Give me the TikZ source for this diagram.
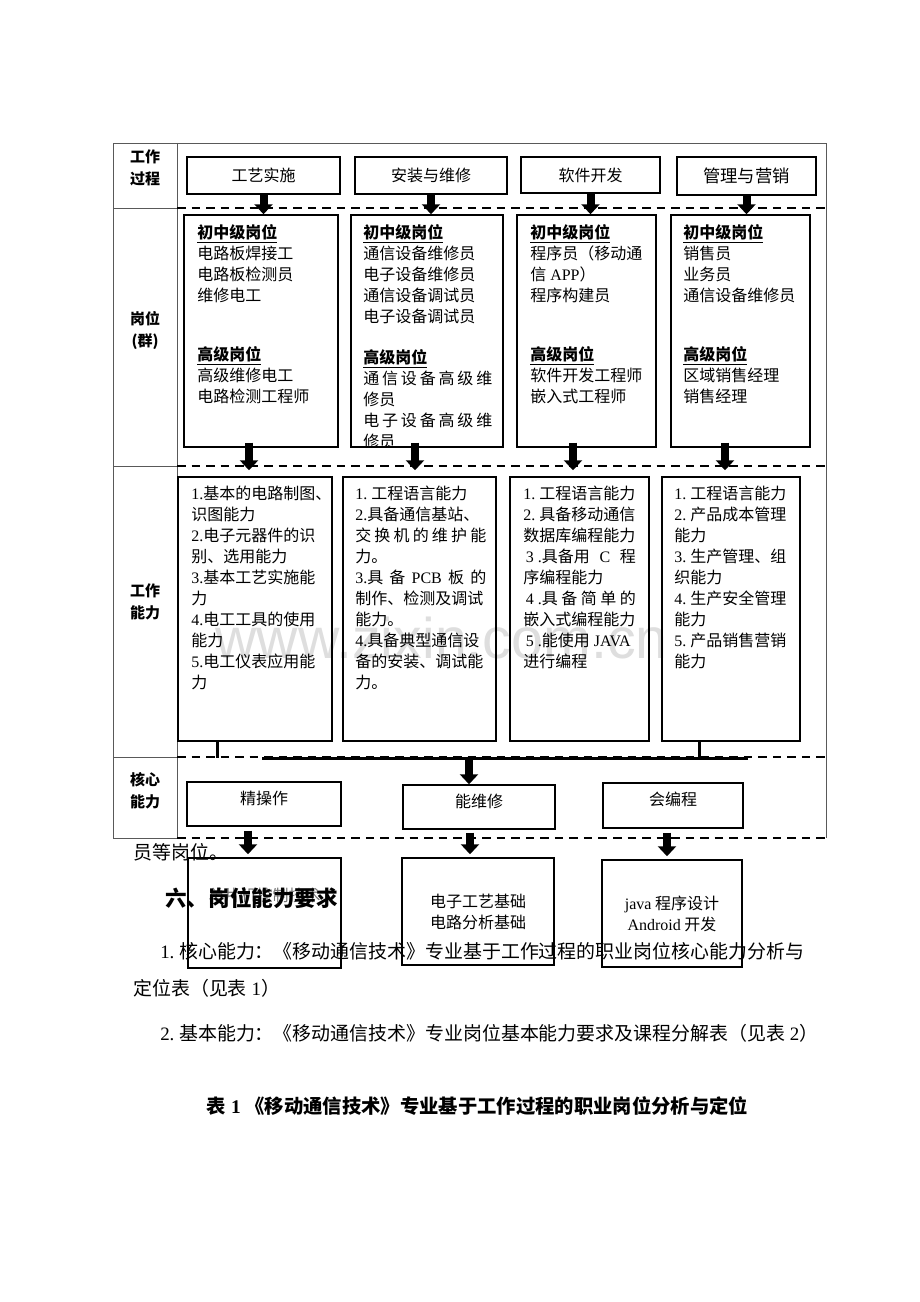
\documentclass[tikz,border=0pt]{standalone}
\usepackage{fontspec}
\usetikzlibrary{arrows.meta,calc}
\setmainfont{Liberation Serif}
\newfontfamily\cjk{Noto Sans CJK SC}
\newfontfamily\wmfont{Liberation Sans}
\newcommand\latn[1]{{\rmfamily #1}}
\newcommand\sprd[2]{\makebox[#1][s]{#2}}

\begin{document}
\begin{tikzpicture}[x=0.75pt,y=-0.75pt,
    box/.style={draw,line width=1.1pt,inner sep=0pt,align=center,font=\cjk\fontsize{12pt}{15.75pt}\selectfont},
    txt/.style={anchor=north west,inner sep=0pt,align=left,font=\cjk\fontsize{12pt}{15.75pt}\selectfont},
    rowlbl/.style={inner sep=0pt,align=center,font=\cjk\bfseries\fontsize{11.25pt}{16.5pt}\selectfont},
    rowsep/.style={dash pattern=on 6.4pt off 4.5pt,line width=1pt},
    frame/.style={black!65,line width=0.6pt},
    bigarrow/.style={line width=6pt,-{Triangle[width=13.5pt,length=7.5pt]}},
    busline/.style={line width=2.25pt},
    raised/.style={text height=9pt,text depth=9pt},
    body/.style={anchor=west,inner sep=0pt,font=\cjk\fontsize{14.2pt}{18pt}\selectfont}]
  \useasboundingbox (0,0) rectangle (920,1302);

  % watermark
  \node[anchor=base west,inner sep=0pt,font=\wmfont\fontsize{43pt}{43pt}\selectfont,text=black!13] (wm) at (215,658) {www.zixin.com.cn};

  % table
  \draw[frame] (177,838) -- (113,838) -- (113,143) -- (826,143) -- (826,838);
  \draw[frame] (177,143) -- (177,838);
  \draw[frame] (113,208) -- (177,208);
  \draw[frame] (113,466) -- (177,466);
  \draw[frame] (113,757) -- (177,757);
  \draw[rowsep] (177,208) -- (826,208);
  \draw[rowsep] (177,466) -- (826,466);
  \draw[rowsep] (177,757) -- (826,757);
  \draw[rowsep] (177,838) -- (826,838);

  \node[rowlbl] (lgc) at (145,168) {工作\\过程};
  \node[rowlbl] (lgw) at (145,330) {岗位\\(群)};
  \node[rowlbl] (lnl) at (145,602) {工作\\能力};
  \node[rowlbl] (lhx) at (145,791) {核心\\能力};

  % work process
  \node[box,minimum width=114.75pt,minimum height=27.75pt] (gc1) at (263.5,175.5) {工艺实施};
  \node[box,minimum width=114pt,minimum height=27.75pt] (gc2) at (431,175.5) {安装与维修};
  \node[box,minimum width=104.25pt,minimum height=27pt] (gc3) at (590.5,175) {软件开发};
  \node[box,minimum width=104.25pt,minimum height=28.5pt,font=\cjk\fontsize{13pt}{16pt}\selectfont] (gc4) at (746.5,176) {管理与营销};

  % posts
  \node[box,minimum width=115.5pt,minimum height=174pt] (gw1) at (261,331) {};
  \node[box,minimum width=114pt,minimum height=174pt] (gw2) at (427,331) {};
  \node[box,minimum width=104.25pt,minimum height=174pt] (gw3) at (586.5,331) {};
  \node[box,minimum width=104.25pt,minimum height=174pt] (gw4) at (740.5,331) {};

  \node[txt] (gw1t) at (197,224.5) {\underline{\textbf{初中级岗位}}\\
    电路板焊接工\\
    电路板检测员\\
    维修电工\\[28.5pt]
    \underline{\textbf{高级岗位}}\\
    高级维修电工\\
    电路检测工程师};
  \begin{scope}
    \clip (gw2.north west) rectangle (gw2.south east);
    \node[txt] (gw2t) at (363,224.5) {\underline{\textbf{初中级岗位}}\\
      通信设备维修员\\
      电子设备维修员\\
      通信设备调试员\\
      电子设备调试员\\[15pt]
      \underline{\textbf{高级岗位}}\\
      \sprd{96.75pt}{通\hfill 信\hfill 设\hfill 备\hfill 高\hfill 级\hfill 维}\\
      修员\\
      \sprd{96.75pt}{电\hfill 子\hfill 设\hfill 备\hfill 高\hfill 级\hfill 维}\\
      修员};
  \end{scope}
  \node[txt] (gw3t) at (530,224.5) {\underline{\textbf{初中级岗位}}\\
    程序员（移动通\\
    信\latn{~APP}）\\
    程序构建员\\[28.5pt]
    \underline{\textbf{高级岗位}}\\
    软件开发工程师\\
    嵌入式工程师};
  \node[txt] (gw4t) at (683,224.5) {\underline{\textbf{初中级岗位}}\\
    销售员\\
    业务员\\
    通信设备维修员\\[28.5pt]
    \underline{\textbf{高级岗位}}\\
    区域销售经理\\
    销售经理};

  % abilities
  \node[box,minimum width=115.5pt,minimum height=198pt] (nl1) at (255,609) {};
  \node[box,minimum width=114.75pt,minimum height=198pt] (nl2) at (419.5,609) {};
  \node[box,minimum width=104.25pt,minimum height=198pt] (nl3) at (579.5,609) {};
  \node[box,minimum width=103.5pt,minimum height=198pt] (nl4) at (731,609) {};

  \node[txt] (nl1t) at (191,485.5) {\latn{1.}基本的电路制图、\\
    识图能力\\
    \latn{2.}电子元器件的识\\
    别、选用能力\\
    \latn{3.}基本工艺实施能\\
    力\\
    \latn{4.}电工工具的使用\\
    能力\\
    \latn{5.}电工仪表应用能\\
    力};
  \node[txt] (nl2t) at (355,485.5) {\latn{1.~}工程语言能力\\
    \latn{2.}具备通信基站、\\
    \sprd{98.25pt}{交\hfill 换\hfill 机\hfill 的\hfill 维\hfill 护\hfill 能}\\
    力。\\
    \sprd{98.25pt}{\latn{3.}具\hfill 备\hfill\latn{PCB}\hfill 板\hfill 的}\\
    制作、检测及调试\\
    能力。\\
    \latn{4.}具备典型通信设\\
    备的安装、调试能\\
    力。};
  \node[txt] (nl3t) at (523,485.5) {\latn{1.~}工程语言能力\\
    \latn{2.~}具备移动通信\\
    数据库编程能力\\
    \hspace*{2pt}\sprd{82.5pt}{\latn{3~.}具备用\hfill\latn{C}\hfill 程}\\
    序编程能力\\
    \hspace*{2pt}\sprd{82.5pt}{\latn{4~.}具\hfill 备\hfill 简\hfill 单\hfill 的}\\
    嵌入式编程能力\\
    \hspace*{2pt}\latn{5~.}能使用\latn{~JAVA}\\
    进行编程};
  \node[txt] (nl4t) at (674,485.5) {\latn{1.~}工程语言能力\\
    \latn{2.~}产品成本管理\\
    能力\\
    \latn{3.~}生产管理、组\\
    织能力\\
    \latn{4.~}生产安全管理\\
    能力\\
    \latn{5.~}产品销售营销\\
    能力};

  % core abilities
  \node[box,raised,minimum width=115.5pt,minimum height=33pt] (hx1) at (264,804) {精操作};
  \node[box,raised,minimum width=114pt,minimum height=33pt] (hx2) at (479,807) {能维修};
  \node[box,raised,minimum width=105pt,minimum height=33.75pt] (hx3) at (673,805.5) {会编程};

  % courses
  \node[box,minimum width=114.75pt,minimum height=82.5pt] (kc1) at (264.5,913) {};
  \node[box,minimum width=114pt,minimum height=80.25pt] (kc2) at (478,911.5) {电子工艺基础\\电路分析基础};
  \node[box,minimum width=105pt,minimum height=80.25pt] (kc3) at (672,913.5) {\latn{java} 程序设计\\\latn{Android} 开发};
  \node[inner sep=0pt,font=\cjk\fontsize{12pt}{15.75pt}\selectfont,text=black!55] (kc1t) at ($(kc1)+(0,-18)$) {单片机控制技术};

  % arrows
  \draw[bigarrow] (gc1.south) -- (gc1.south |- gw1.north);
  \draw[bigarrow] (gc2.south) -- (gc2.south |- gw2.north);
  \draw[bigarrow] (gc3.south) -- (gc3.south |- gw3.north);
  \draw[bigarrow] (gc4.south) -- (gc4.south |- gw4.north);

  \draw[bigarrow] ($(gw1.south -| nl1.north)+(-6,-5)$) -- ($(nl1.north)+(-6,-6)$);
  \draw[bigarrow] ($(gw2.south -| nl2.north)+(-4.5,-5)$) -- ($(nl2.north)+(-4.5,-6)$);
  \draw[bigarrow] ($(gw3.south -| nl3.north)+(-6.5,-5)$) -- ($(nl3.north)+(-6.5,-6)$);
  \draw[bigarrow] ($(gw4.south -| nl4.north)+(-6,-5)$) -- ($(nl4.north)+(-6,-6)$);

  \coordinate (busL) at (262,758);
  \coordinate (busR) at (748,758);
  \coordinate (busM) at (469,758);
  \draw[busline] (busL) -- (busR);
  \draw[busline] ($(nl1.south)+(-38,0)$) -- ($(nl1.south)+(-38,16)$);
  \draw[busline] ($(nl4.south)+(-32,0)$) -- ($(nl4.south)+(-32,17)$);
  \draw[bigarrow] (busM) -- (busM |- hx2.north);

  \draw[bigarrow] ($(hx1.south)+(-16,4)$) -- ($(kc1.north)+(-16.5,-3)$);
  \draw[bigarrow] ($(hx2.south)+(-9,3)$) -- ($(kc2.north)+(-8,-3)$);
  \draw[bigarrow] ($(hx3.south)+(-6,4)$) -- ($(kc3.north)+(-5,-3)$);

  % page text
  \node[body] (p0) at (133,852) {员等岗位。};
  \node[anchor=west,inner sep=0pt,font=\cjk\bfseries\fontsize{16.2pt}{18pt}\selectfont] (h6) at (165,898) {六、岗位能力要求};
  \node[body] (p1) at (160,951) {\latn{1.~}核心能力：《移动通信技术》专业基于工作过程的职业岗位核心能力分析与};
  \node[body] (p1b) at (133,988) {定位表（见表\latn{~1}）};
  \node[body] (p2) at (160,1033) {\latn{2.~}基本能力：《移动通信技术》专业岗位基本能力要求及课程分解表（见表\latn{~2}）};
  \node[inner sep=0pt,font=\cjk\bfseries\fontsize{14.5pt}{18pt}\selectfont] (cap) at (477.5,1106) {表\latn{\bfseries~1~}《移动通信技术》专业基于工作过程的职业岗位分析与定位};
\end{tikzpicture}
\end{document}
